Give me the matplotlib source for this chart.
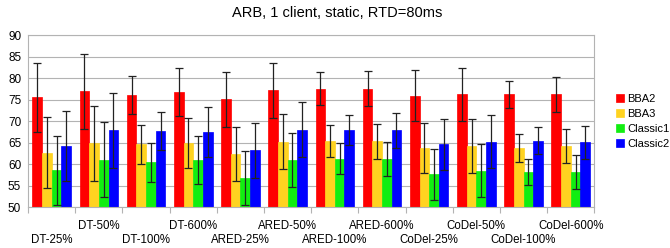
import matplotlib
matplotlib.use("Agg")
import matplotlib.pyplot as plt
import numpy as np

plt.rcParams['font.family'] = ['Liberation Sans', 'DejaVu Sans']

groups = ["DT-25%", "DT-50%", "DT-100%", "DT-600%",
          "ARED-25%", "ARED-50%", "ARED-100%", "ARED-600%",
          "CoDel-25%", "CoDel-50%", "CoDel-100%", "CoDel-600%"]
series = ["BBA2", "BBA3", "Classic1", "Classic2"]
colors = ["#ff0000", "#ffd320", "#11ee11", "#0000ff"]

# mean values per series
bba2 = [75.6, 77.0, 76.2, 76.8, 75.2, 77.3, 77.6, 77.6, 76.0, 76.3, 76.3, 76.3]
bba3 = [62.7, 64.9, 64.7, 64.9, 62.5, 65.3, 65.4, 65.4, 63.8, 64.3, 63.8, 64.3]
classic1 = [58.6, 61.1, 60.5, 61.0, 56.9, 61.1, 61.3, 61.3, 57.7, 58.5, 58.2, 58.2]
classic2 = [64.3, 67.9, 67.8, 67.6, 63.3, 68.0, 68.0, 67.9, 64.7, 65.3, 65.5, 65.1]

# error bar half-widths
bba2_err = [8.1, 8.7, 4.4, 5.6, 6.4, 6.4, 3.9, 4.1, 6.0, 6.2, 3.1, 4.0]
bba3_err = [8.3, 8.7, 4.5, 5.8, 6.3, 6.4, 3.7, 4.1, 5.9, 6.2, 3.2, 4.0]
classic1_err = [8.1, 8.7, 4.5, 5.6, 6.3, 6.3, 3.6, 4.0, 5.9, 6.2, 3.1, 4.0]
classic2_err = [8.1, 8.7, 4.4, 5.8, 6.4, 6.4, 3.6, 4.1, 5.9, 6.2, 3.1, 3.9]

values = [bba2, bba3, classic1, classic2]
errors = [bba2_err, bba3_err, classic1_err, classic2_err]

fig = plt.figure(figsize=(6.7, 2.48), dpi=100)
ax = fig.add_axes([0.042, 0.164, 0.845, 0.693])

x = np.arange(len(groups))
w = 0.204
for i, (name, vals, errs, c) in enumerate(zip(series, values, errors, colors)):
    pos = x + (i - 1.5) * w
    ax.bar(pos, vals, w, color=c, edgecolor=c, linewidth=0.5,
           label=name, zorder=2)
    ax.errorbar(pos, vals, yerr=errs, fmt="none", ecolor="#222222",
                elinewidth=0.9, capsize=3, capthick=0.9, zorder=3)

ax.set_xlim(-0.5, len(groups) - 0.5)
ax.set_ylim(50, 90)
ax.set_yticks(range(50, 91, 5))
ax.yaxis.grid(True, color="#b3b3b3", linewidth=0.8, zorder=0)
ax.set_axisbelow(True)
ax.tick_params(axis="y", length=0, labelsize=8.5, pad=5)

# group labels staggered on two rows, ticks at group boundaries
ax.set_xticks(x)
ax.set_xticklabels([])
ax.tick_params(axis="x", which="major", length=0)
ax.set_xticks(np.arange(-0.5, len(groups)), minor=True)
ax.tick_params(axis="x", which="minor", length=4, color="#b3b3b3", width=0.8)
trans = ax.get_xaxis_transform()
for i, g in enumerate(groups):
    yoff = -0.155 if i % 2 == 0 else -0.075
    ax.text(x[i], yoff, g, transform=trans, ha="center", va="top", fontsize=8.3)

for s in ax.spines.values():
    s.set_color("#b3b3b3")
    s.set_linewidth(0.8)

fig.suptitle("ARB, 1 client, static, RTD=80ms", x=0.503, y=0.975, fontsize=10.5)

ax.legend(loc="center left", bbox_to_anchor=(1.025, 0.5), frameon=False,
          fontsize=8, handlelength=0.7, handleheight=0.7, handletextpad=0.3,
          labelspacing=0.45, borderaxespad=0.3)

fig.savefig("out.png", dpi=100)
